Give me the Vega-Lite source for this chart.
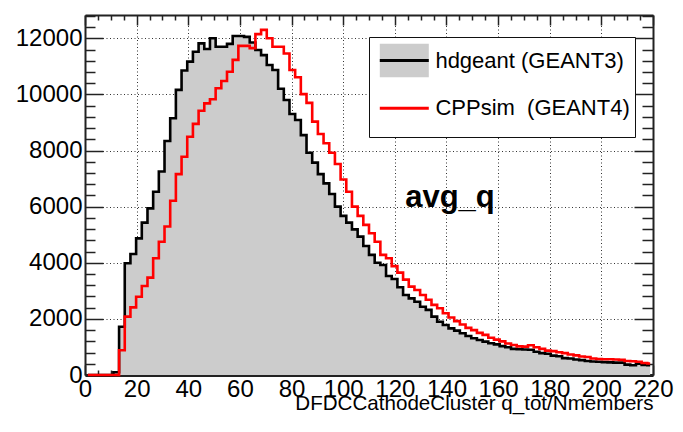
{
  "$schema": "https://vega.github.io/schema/vega-lite/v6.json",
  "width": 568,
  "height": 360,
  "autosize": {"type": "none"},
  "padding": {"left": 85, "top": 15, "right": 30, "bottom": 57},
  "background": "white",
  "config": {
    "view": {"stroke": null},
    "font": "Liberation Sans"
  },
  "datasets": {
    "hist": [
      {"q":1.1,"hdgeant":0,"CPPsim":0},
      {"q":3.3,"hdgeant":0,"CPPsim":0},
      {"q":5.5,"hdgeant":0,"CPPsim":0},
      {"q":7.7,"hdgeant":0,"CPPsim":0},
      {"q":9.9,"hdgeant":0,"CPPsim":0},
      {"q":12.1,"hdgeant":100,"CPPsim":0},
      {"q":14.3,"hdgeant":1720,"CPPsim":880},
      {"q":16.5,"hdgeant":3980,"CPPsim":2080},
      {"q":18.7,"hdgeant":4310,"CPPsim":2410},
      {"q":20.9,"hdgeant":4870,"CPPsim":2790},
      {"q":23.1,"hdgeant":5430,"CPPsim":3170},
      {"q":25.3,"hdgeant":5940,"CPPsim":3470},
      {"q":27.5,"hdgeant":6530,"CPPsim":4160},
      {"q":29.7,"hdgeant":7250,"CPPsim":4750},
      {"q":31.9,"hdgeant":8340,"CPPsim":5290},
      {"q":34.1,"hdgeant":9150,"CPPsim":6210},
      {"q":36.3,"hdgeant":10160,"CPPsim":7160},
      {"q":38.5,"hdgeant":10850,"CPPsim":7780},
      {"q":40.7,"hdgeant":11170,"CPPsim":8490},
      {"q":42.9,"hdgeant":11520,"CPPsim":8950},
      {"q":45.1,"hdgeant":11820,"CPPsim":9420},
      {"q":47.3,"hdgeant":11620,"CPPsim":9680},
      {"q":49.5,"hdgeant":12000,"CPPsim":9830},
      {"q":51.7,"hdgeant":11700,"CPPsim":10220},
      {"q":53.9,"hdgeant":11700,"CPPsim":10480},
      {"q":56.1,"hdgeant":11800,"CPPsim":10810},
      {"q":58.3,"hdgeant":12080,"CPPsim":11230},
      {"q":60.5,"hdgeant":12080,"CPPsim":11730},
      {"q":62.7,"hdgeant":12050,"CPPsim":11730},
      {"q":64.9,"hdgeant":11850,"CPPsim":11650},
      {"q":67.1,"hdgeant":11580,"CPPsim":12150},
      {"q":69.3,"hdgeant":11400,"CPPsim":12300},
      {"q":71.5,"hdgeant":11050,"CPPsim":12000},
      {"q":73.7,"hdgeant":10870,"CPPsim":11700},
      {"q":75.9,"hdgeant":10200,"CPPsim":11700},
      {"q":78.1,"hdgeant":9800,"CPPsim":11460},
      {"q":80.3,"hdgeant":9300,"CPPsim":10870},
      {"q":82.5,"hdgeant":9090,"CPPsim":10610},
      {"q":84.7,"hdgeant":8550,"CPPsim":10010},
      {"q":86.9,"hdgeant":7920,"CPPsim":9700},
      {"q":89.1,"hdgeant":7570,"CPPsim":9030},
      {"q":91.3,"hdgeant":7160,"CPPsim":8590},
      {"q":93.5,"hdgeant":6830,"CPPsim":8260},
      {"q":95.7,"hdgeant":6450,"CPPsim":7920},
      {"q":97.9,"hdgeant":6000,"CPPsim":7520},
      {"q":100.1,"hdgeant":5670,"CPPsim":6970},
      {"q":102.3,"hdgeant":5430,"CPPsim":6530},
      {"q":104.5,"hdgeant":5190,"CPPsim":6000},
      {"q":106.7,"hdgeant":4930,"CPPsim":5670},
      {"q":108.9,"hdgeant":4600,"CPPsim":5350},
      {"q":111.1,"hdgeant":4280,"CPPsim":5050},
      {"q":113.3,"hdgeant":4000,"CPPsim":4750},
      {"q":115.5,"hdgeant":3920,"CPPsim":4280},
      {"q":117.7,"hdgeant":3530,"CPPsim":4160},
      {"q":119.9,"hdgeant":3420,"CPPsim":3880},
      {"q":122.1,"hdgeant":3130,"CPPsim":3650},
      {"q":124.3,"hdgeant":2850,"CPPsim":3400},
      {"q":126.5,"hdgeant":2730,"CPPsim":3150},
      {"q":128.7,"hdgeant":2610,"CPPsim":3030},
      {"q":130.9,"hdgeant":2430,"CPPsim":2850},
      {"q":133.1,"hdgeant":2320,"CPPsim":2680},
      {"q":135.3,"hdgeant":2080,"CPPsim":2500},
      {"q":137.5,"hdgeant":1900,"CPPsim":2380},
      {"q":139.7,"hdgeant":1780,"CPPsim":2200},
      {"q":141.9,"hdgeant":1660,"CPPsim":2050},
      {"q":144.1,"hdgeant":1580,"CPPsim":1920},
      {"q":146.3,"hdgeant":1490,"CPPsim":1800},
      {"q":148.5,"hdgeant":1390,"CPPsim":1680},
      {"q":150.7,"hdgeant":1310,"CPPsim":1600},
      {"q":152.9,"hdgeant":1250,"CPPsim":1500},
      {"q":155.1,"hdgeant":1190,"CPPsim":1430},
      {"q":157.3,"hdgeant":1130,"CPPsim":1330},
      {"q":159.5,"hdgeant":1090,"CPPsim":1260},
      {"q":161.7,"hdgeant":1030,"CPPsim":1200},
      {"q":163.9,"hdgeant":990,"CPPsim":1120},
      {"q":166.1,"hdgeant":930,"CPPsim":1070},
      {"q":168.3,"hdgeant":920,"CPPsim":1020},
      {"q":170.5,"hdgeant":910,"CPPsim":1010},
      {"q":172.7,"hdgeant":900,"CPPsim":1060},
      {"q":174.9,"hdgeant":830,"CPPsim":990},
      {"q":177.1,"hdgeant":780,"CPPsim":930},
      {"q":179.3,"hdgeant":760,"CPPsim":870},
      {"q":181.5,"hdgeant":690,"CPPsim":850},
      {"q":183.7,"hdgeant":670,"CPPsim":810},
      {"q":185.9,"hdgeant":600,"CPPsim":780},
      {"q":188.1,"hdgeant":590,"CPPsim":730},
      {"q":190.3,"hdgeant":550,"CPPsim":700},
      {"q":192.5,"hdgeant":530,"CPPsim":660},
      {"q":194.7,"hdgeant":500,"CPPsim":640},
      {"q":196.9,"hdgeant":480,"CPPsim":590},
      {"q":199.1,"hdgeant":470,"CPPsim":570},
      {"q":201.3,"hdgeant":460,"CPPsim":560},
      {"q":203.5,"hdgeant":450,"CPPsim":560},
      {"q":205.7,"hdgeant":440,"CPPsim":550},
      {"q":207.9,"hdgeant":440,"CPPsim":540},
      {"q":210.1,"hdgeant":370,"CPPsim":500},
      {"q":212.3,"hdgeant":350,"CPPsim":490},
      {"q":214.5,"hdgeant":400,"CPPsim":470},
      {"q":216.7,"hdgeant":360,"CPPsim":430},
      {"q":218.9,"hdgeant":350,"CPPsim":410}
    ],
    "note": [{"t": "avg_q"}]
  },
  "layer": [
    {
      "data": {"name": "hist"},
      "transform": [{"fold": ["hdgeant", "CPPsim"], "as": ["series", "count"]}, {"filter": "datum.series === 'hdgeant'"}],
      "mark": {"type": "area", "interpolate": "step", "color": "#cccccc"},
      "encoding": {
        "x": {
          "field": "q", "type": "quantitative",
          "scale": {"domain": [0, 220], "nice": false, "zero": false},
          "axis": {
            "orient": "bottom",
            "values": [0,5,10,15,20,25,30,35,40,45,50,55,60,65,70,75,80,85,90,95,100,105,110,115,120,125,130,135,140,145,150,155,160,165,170,175,180,185,190,195,200,205,210,215,220],
            "format": "d",
            "labelExpr": "datum.value % 20 === 0 ? datum.label : ''",
            "labelFontSize": 24, "labelColor": "#000", "labelFont": "Liberation Sans",
            "labelOverlap": false, "labelFlush": false, "labelBound": false,
            "labelPadding": 12,
            "tickSize": {"condition": {"test": "datum.value % 20 === 0", "value": -10}, "value": -5},
            "tickColor": "#222", "tickWidth": 1.5,
            "grid": true, "gridDash": [1, 2.5], "gridColor": "#333", "gridWidth": 1,
            "gridOpacity": {"condition": {"test": "datum.value % 20 === 0 && datum.value > 0 && datum.value < 220", "value": 1}, "value": 0},
            "domain": true, "domainColor": "#222", "domainWidth": 3,
            "title": "DFDCCathodeCluster q_tot/Nmembers",
            "titleFont": "Liberation Sans", "titleFontSize": 20.6, "titleFontWeight": "normal", "titleColor": "#000",
            "titleAnchor": "end", "titleBaseline": "alphabetic", "titleY": 34
          }
        },
        "y": {
          "field": "count", "type": "quantitative",
          "scale": {"domain": [0, 12830], "nice": false, "zero": true},
          "axis": {
            "orient": "left",
            "values": [0,400,800,1200,1600,2000,2400,2800,3200,3600,4000,4400,4800,5200,5600,6000,6400,6800,7200,7600,8000,8400,8800,9200,9600,10000,10400,10800,11200,11600,12000,12400,12800],
            "format": "d",
            "labelExpr": "datum.value % 2000 === 0 ? datum.label : ''",
            "labelFontSize": 24, "labelColor": "#000", "labelFont": "Liberation Sans",
            "labelOverlap": false, "labelFlush": false, "labelBound": false,
            "labelPadding": 21,
            "tickSize": {"condition": {"test": "datum.value % 2000 === 0", "value": -18}, "value": -10},
            "tickColor": "#222", "tickWidth": 1.5,
            "grid": true, "gridDash": [1, 2.5], "gridColor": "#333", "gridWidth": 1,
            "gridOpacity": {"condition": {"test": "datum.value % 2000 === 0 && datum.value > 0", "value": 1}, "value": 0},
            "domain": true, "domainColor": "#222", "domainWidth": 2,
            "title": null
          }
        }
      }
    },
    {
      "data": {"name": "hist"},
      "transform": [{"fold": ["hdgeant", "CPPsim"], "as": ["series", "count"]}, {"filter": "datum.series === 'hdgeant'"}],
      "mark": {"type": "line", "interpolate": "step", "strokeWidth": 2.6, "strokeJoin": "miter", "strokeCap": "butt"},
      "encoding": {
        "x": {"field": "q", "type": "quantitative", "scale": {"domain": [0, 220], "nice": false, "zero": false}, "axis": null},
        "y": {"field": "count", "type": "quantitative", "scale": {"domain": [0, 12830], "nice": false, "zero": true}, "axis": null},
        "stroke": {
          "field": "series", "type": "nominal",
          "scale": {"domain": ["hdgeant", "CPPsim"], "range": ["#000000", "#ff0000"]},
          "legend": {
            "title": null, "orient": "none", "legendX": 284, "legendY": 22, "direction": "vertical",
            "fillColor": "#ffffff", "strokeColor": "#111111", "padding": 5,
            "symbolType": "M-1.467,0L1.467,0L1.467,1L-1.467,1L-1.467,-1L1.467,-1L1.467,0Z",
            "symbolSize": 1116, "symbolStrokeWidth": 3, "symbolDash": [49, 400], "symbolOffset": 11.8,
            "labelFontSize": 22, "labelFont": "Liberation Sans", "labelColor": "#000", "labelOffset": 12.6,
            "labelLimit": 0,
            "rowPadding": 0.8,
            "labelExpr": "datum.label === 'hdgeant' ? 'hdgeant (GEANT3)' : 'CPPsim\u00a0 (GEANT4)'",
            "encoding": {"symbols": {"fill": {"condition": {"test": "datum.value === 'hdgeant'", "value": "#cccccc"}, "value": "transparent"}}}
          }
        }
      }
    },
    {
      "data": {"name": "hist"},
      "transform": [{"fold": ["hdgeant", "CPPsim"], "as": ["series", "count"]}, {"filter": "datum.series === 'CPPsim'"}],
      "mark": {"type": "line", "interpolate": "step", "strokeWidth": 2.6, "strokeJoin": "miter", "strokeCap": "butt"},
      "encoding": {
        "x": {
          "field": "q", "type": "quantitative",
          "scale": {"domain": [0, 220], "nice": false, "zero": false},
          "axis": {
            "orient": "top",
            "values": [0,5,10,15,20,25,30,35,40,45,50,55,60,65,70,75,80,85,90,95,100,105,110,115,120,125,130,135,140,145,150,155,160,165,170,175,180,185,190,195,200,205,210,215,220],
            "labels": false, "grid": false, "title": null,
            "tickSize": {"condition": {"test": "datum.value % 20 === 0", "value": -10}, "value": -5},
            "tickColor": "#222", "tickWidth": 1.5,
            "domain": true, "domainColor": "#222", "domainWidth": 2
          }
        },
        "y": {
          "field": "count", "type": "quantitative",
          "scale": {"domain": [0, 12830], "nice": false, "zero": true},
          "axis": {
            "orient": "right",
            "values": [0,400,800,1200,1600,2000,2400,2800,3200,3600,4000,4400,4800,5200,5600,6000,6400,6800,7200,7600,8000,8400,8800,9200,9600,10000,10400,10800,11200,11600,12000,12400,12800],
            "labels": false, "grid": false, "title": null,
            "tickSize": {"condition": {"test": "datum.value % 2000 === 0", "value": -19}, "value": -11},
            "tickColor": "#222", "tickWidth": 1.5,
            "domain": true, "domainColor": "#222", "domainWidth": 2
          }
        },
        "stroke": {
          "field": "series", "type": "nominal",
          "scale": {"domain": ["hdgeant", "CPPsim"], "range": ["#000000", "#ff0000"]},
          "legend": {
            "title": null, "orient": "none", "legendX": 284, "legendY": 22, "direction": "vertical",
            "fillColor": "#ffffff", "strokeColor": "#111111", "padding": 5,
            "symbolType": "M-1.467,0L1.467,0L1.467,1L-1.467,1L-1.467,-1L1.467,-1L1.467,0Z",
            "symbolSize": 1116, "symbolStrokeWidth": 3, "symbolDash": [49, 400], "symbolOffset": 11.8,
            "labelFontSize": 22, "labelFont": "Liberation Sans", "labelColor": "#000", "labelOffset": 12.6,
            "labelLimit": 0,
            "rowPadding": 0.8,
            "labelExpr": "datum.label === 'hdgeant' ? 'hdgeant (GEANT3)' : 'CPPsim\u00a0 (GEANT4)'",
            "encoding": {"symbols": {"fill": {"condition": {"test": "datum.value === 'hdgeant'", "value": "#cccccc"}, "value": "transparent"}}}
          }
        }
      }
    },
    {
      "data": {"name": "note"},
      "mark": {"type": "text", "font": "Liberation Sans", "fontSize": 31, "fontWeight": "bold", "align": "left", "baseline": "alphabetic", "color": "#000"},
      "encoding": {
        "x": {"datum": 124, "type": "quantitative", "scale": {"domain": [0, 220], "nice": false, "zero": false}, "axis": null},
        "y": {"datum": 5990, "type": "quantitative", "scale": {"domain": [0, 12830], "nice": false, "zero": true}, "axis": null},
        "text": {"field": "t", "type": "nominal"}
      }
    }
  ],
  "resolve": {"axis": {"x": "independent", "y": "independent"}}
}
